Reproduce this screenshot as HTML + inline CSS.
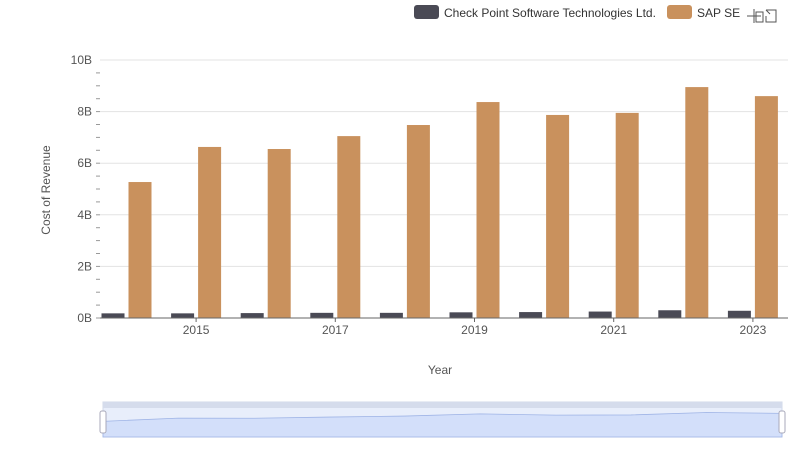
<!DOCTYPE html>
<html><head><meta charset="utf-8"><style>
body{margin:0;background:#fff;font-family:"Liberation Sans",sans-serif;}
svg text{font-family:"Liberation Sans",sans-serif;}
</style></head><body>
<svg id="c" width="800" height="461">
<g>
<rect x="414" y="5" width="25" height="14" rx="3" fill="#4a4a55"/>
<text x="444" y="17" font-size="12" fill="#333">Check Point Software Technologies Ltd.</text>
<rect x="667" y="5" width="25" height="14" rx="3" fill="#c9915d"/>
<text x="697" y="17" font-size="12" fill="#333">SAP SE</text>
</g>
<g stroke="#555" fill="none" stroke-width="1">
<path d="M754 9v14M747 16h14M756 12h7v10h-7z"/>
<path d="M766 10h10v12h-10v-6M766 10l4 4"/>
</g>
<text x="50" y="190" font-size="12" fill="#555" transform="rotate(-90 50 190)" text-anchor="middle">Cost of Revenue</text>
<text x="440" y="374" font-size="12" fill="#555" text-anchor="middle">Year</text>
<g id="grid"></g><g id="bars"></g><g id="axes"></g>
<g>
<rect x="103" y="402" width="679" height="35" fill="#e8eefb" stroke="#d0d8e8"/>
<rect x="103" y="402" width="679" height="6" fill="#d5dcec"/>
<path id="mini" fill="#d3dffa" stroke="#9fb4e6" stroke-width="0.8"/>
<rect x="100" y="411" width="6" height="22" rx="2" fill="#fff" stroke="#aab"/>
<rect x="779" y="411" width="6" height="22" rx="2" fill="#fff" stroke="#aab"/>
</g>
</svg>
<script>
const years=[2014,2015,2016,2017,2018,2019,2020,2021,2022,2023];
const checkPoint=[0.18,0.18,0.19,0.2,0.2,0.22,0.23,0.25,0.3,0.28];
const sap=[5.27,6.63,6.55,7.05,7.48,8.37,7.87,7.95,8.95,8.6];
const yTicks=[0,2,4,6,8,10];
const xTickYears=[2015,2017,2019,2021,2023];
const NS="http://www.w3.org/2000/svg";
function el(t,a,p){const e=document.createElementNS(NS,t);for(const k in a)e.setAttribute(k,a[k]);document.getElementById(p).appendChild(e);return e;}
const x=yr=>126.5+(yr-2014)*69.6;
const y=v=>318-v*25.8;
yTicks.forEach(v=>{
 const l=el('line',{x1:100,x2:788,y1:y(v),y2:y(v),stroke:'#e3e3e3'},'grid');
 
 
 const t=el('text',{x:92,y:y(v)+4,'font-size':12,fill:'#555','text-anchor':'end'},'axes');
 t.textContent=v+'B';
 
 
});
for(let v=0;v<10;v+=0.5){const m=el('line',{x1:96,x2:100,y1:y(v),y2:y(v),stroke:'#999'},'axes');
 
 }
const ax=el('line',{x1:100,x2:788,y1:318,y2:318,stroke:'#666'},'axes');


xTickYears.forEach(yr=>{
 const t=el('text',{x:x(yr),y:334,'font-size':12,fill:'#555','text-anchor':'middle'},'axes');
 t.textContent=yr;
 
 
 const k=el('line',{x1:x(yr),x2:x(yr),y1:318,y2:322,stroke:'#666'},'axes');
 
 
});
years.forEach((yr,i)=>{
 const a=el('rect',{x:x(yr)-25,y:y(checkPoint[i]),width:23,height:318-y(checkPoint[i]),fill:'#4a4a55'},'bars');
 
 
 const b=el('rect',{x:x(yr)+2,y:y(sap[i]),width:23,height:318-y(sap[i]),fill:'#c9915d'},'bars');
 
 
});
let d='M103 437';
years.forEach((yr,i)=>{const px=103+i*679/9;d+=' L'+px+' '+(434-sap[i]*2.4);});
d+=' L782 437Z';
document.getElementById('mini').setAttribute('d',d);
</script>
</body></html>
